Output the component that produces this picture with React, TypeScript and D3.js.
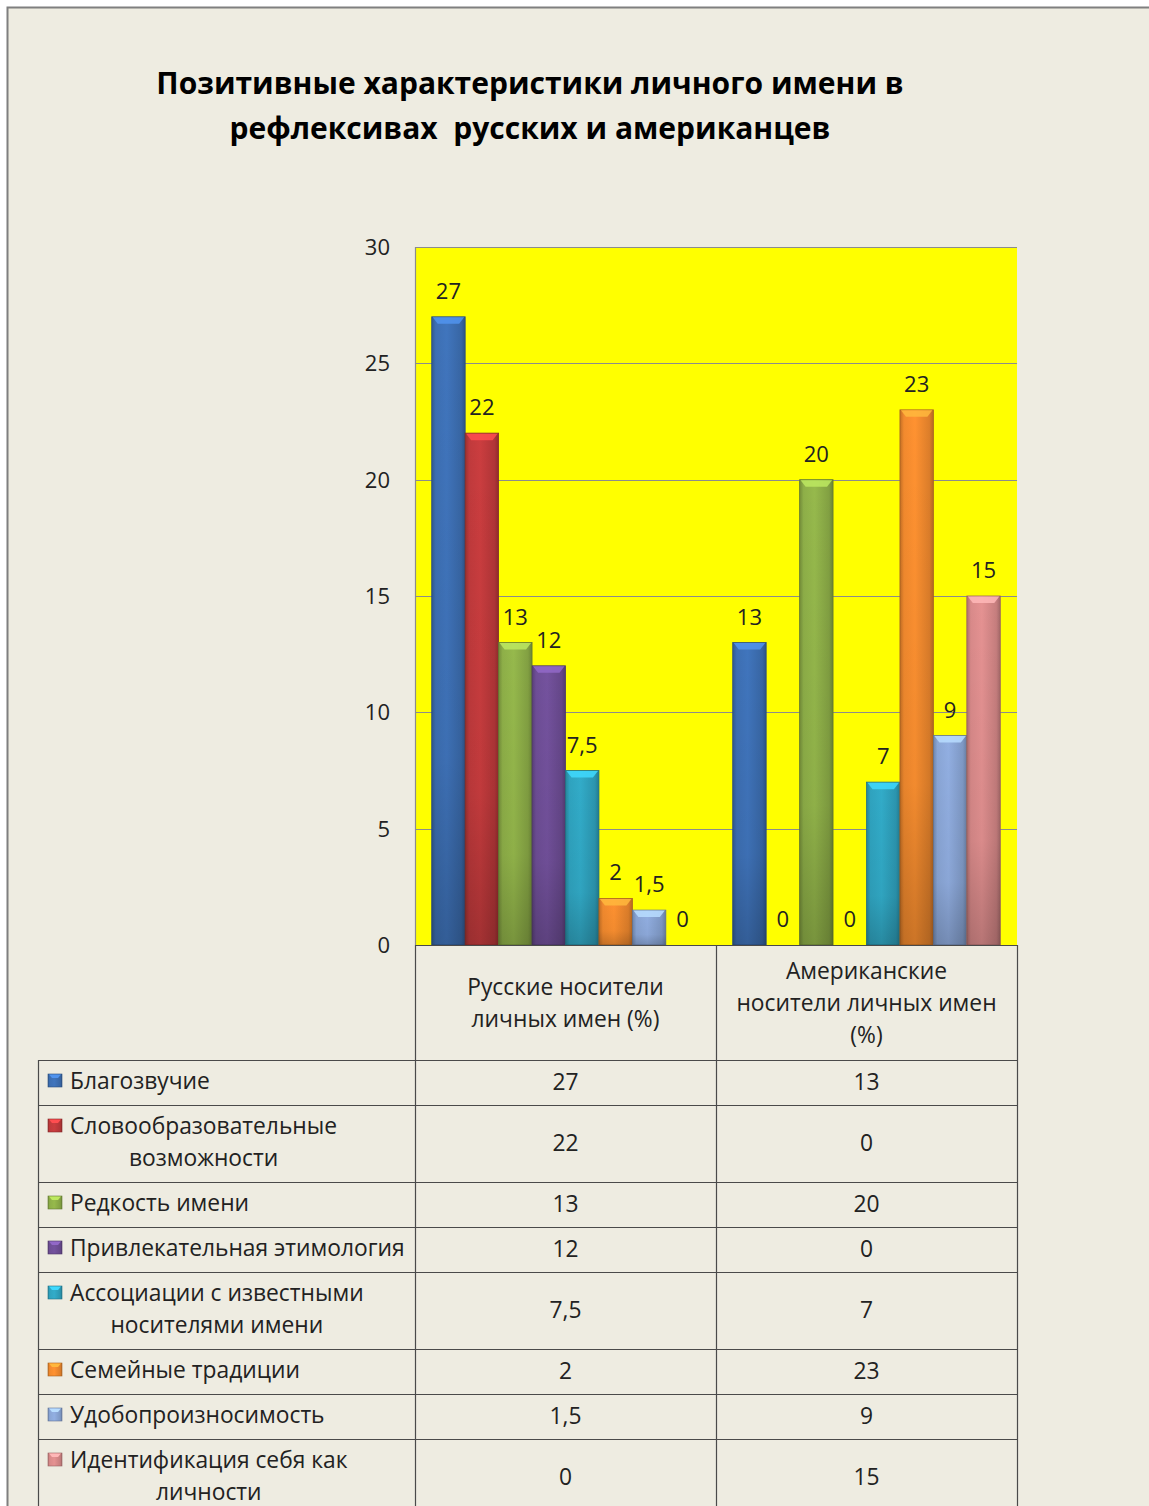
import React, { useEffect, useRef } from "react";
import * as d3 from "d3";

const titleLines = ["Позитивные характеристики личного имени в", "рефлексивах  русских и американцев"];
const categories = ["ru", "us"];
const categoryLabels = [
  ["Русские носители", "личных имен (%)"],
  ["Американские", "носители личных имен", "(%)"],
];
const seriesNames = [
  ["Благозвучие"],
  ["Словообразовательные", "возможности"],
  ["Редкость имени"],
  ["Привлекательная этимология"],
  ["Ассоциации с известными", "носителями имени"],
  ["Семейные традиции"],
  ["Удобопроизносимость"],
  ["Идентификация себя как", "личности"],
];
const russianValues = [27, 22, 13, 12, 7.5, 2, 1.5, 0];
const americanValues = [13, 0, 20, 0, 7, 23, 9, 15];
const seriesColors = ["#3D6FB3", "#C03A3C", "#8EAF48", "#6E4E96", "#2FA3BF", "#F28A2E", "#8AA6D6", "#D98A8A"];
const yTicks = [0, 5, 10, 15, 20, 25, 30];

const fmt = (v: number) => String(v).replace(".", ",");
const FONT = "'Open Sans', 'Noto Sans', sans-serif";

export default function App() {
  const ref = useRef<SVGSVGElement>(null);
  useEffect(() => {
    const svg = d3.select(ref.current);
    svg.selectAll("*").remove();

    const W = 1149, H = 1506;
    const plot = { left: 415, right: 1017, top: 247, bottom: 945 };
    const tableLeft = 38;
    const TS = 22.8;

    const defs = svg.append("defs");
    seriesColors.forEach((c, i) => {
      const g = defs.append("linearGradient").attr("id", `g${i}`).attr("x1", 0).attr("x2", 1).attr("y1", 0).attr("y2", 0);
      const base = d3.color(c)!;
      g.append("stop").attr("offset", 0).attr("stop-color", base.darker(0.6).formatHex());
      g.append("stop").attr("offset", 0.12).attr("stop-color", base.formatHex());
      g.append("stop").attr("offset", 0.45).attr("stop-color", base.brighter(0.15).formatHex());
      g.append("stop").attr("offset", 0.88).attr("stop-color", base.darker(0.25).formatHex());
      g.append("stop").attr("offset", 1).attr("stop-color", base.darker(0.8).formatHex());
      const gv = defs.append("linearGradient").attr("id", `v${i}`).attr("x1", 0).attr("x2", 0).attr("y1", 0).attr("y2", 1);
      gv.append("stop").attr("offset", 0).attr("stop-color", "#000").attr("stop-opacity", 0);
      gv.append("stop").attr("offset", 0.7).attr("stop-color", "#000").attr("stop-opacity", 0.05);
      gv.append("stop").attr("offset", 1).attr("stop-color", "#000").attr("stop-opacity", 0.2);
    });

    svg.append("rect").attr("x", 0).attr("y", 0).attr("width", W).attr("height", H).attr("fill", "#ffffff");
    svg.append("rect").attr("x", 7.5).attr("y", 7.5).attr("width", W + 20).attr("height", H + 20)
      .attr("fill", "#EEECE1").attr("stroke", "#7F7F7F").attr("stroke-width", 2);

    svg.append("g").selectAll("text").data(titleLines).join("text")
      .attr("x", 530).attr("y", (_d, i) => 94 + i * 45)
      .attr("text-anchor", "middle").attr("font-family", FONT).attr("font-weight", "bold")
      .attr("font-size", 30).attr("fill", "#000").style("white-space", "pre").text((d) => d);

    const y = d3.scaleLinear().domain([0, 30]).range([plot.bottom, plot.top]);
    const x0 = d3.scaleBand<string>().domain(categories).range([plot.left, plot.right]);
    const x1 = d3.scaleBand<number>().domain(d3.range(seriesNames.length)).range([0, x0.bandwidth()]).paddingInner(0).paddingOuter(0.5);

    svg.append("rect").attr("x", plot.left).attr("y", plot.top).attr("width", plot.right - plot.left)
      .attr("height", plot.bottom - plot.top).attr("fill", "#FFFF00");

    svg.append("g").selectAll("line").data(yTicks.filter((t) => t > 0)).join("line")
      .attr("x1", plot.left).attr("x2", plot.right)
      .attr("y1", (d) => Math.round(y(d)) + 0.5).attr("y2", (d) => Math.round(y(d)) + 0.5)
      .attr("stroke", "#8C8C8C").attr("stroke-width", 1.2);
    svg.append("line").attr("x1", plot.left + 0.5).attr("x2", plot.left + 0.5).attr("y1", plot.top).attr("y2", plot.bottom)
      .attr("stroke", "#8C8C8C").attr("stroke-width", 1.2);

    svg.append("g").selectAll("text").data(yTicks).join("text")
      .attr("x", 390).attr("y", (d) => y(d) + 8).attr("text-anchor", "end")
      .attr("font-family", FONT).attr("font-size", 22).attr("fill", "#222").text((d) => String(d));

    const groups = [russianValues, americanValues];
    groups.forEach((vals, gi) => {
      const g = svg.append("g").attr("transform", `translate(${x0(categories[gi])},0)`);
      const data = vals.map((v, i) => ({ v, i }));
      const bars = g.selectAll("g.bar").data(data.filter((d) => d.v > 0)).join("g");
      bars.append("rect")
        .attr("x", (d) => x1(d.i)!).attr("y", (d) => y(d.v)).attr("width", x1.bandwidth())
        .attr("height", (d) => y(0) - y(d.v)).attr("fill", (d) => `url(#g${d.i})`)
        .attr("stroke", (d) => d3.color(seriesColors[d.i])!.darker(1).formatHex()).attr("stroke-width", 0.8);
      bars.append("rect")
        .attr("x", (d) => x1(d.i)!).attr("y", (d) => y(d.v)).attr("width", x1.bandwidth())
        .attr("height", (d) => y(0) - y(d.v)).attr("fill", (d) => `url(#v${d.i})`);
      bars.append("path")
        .attr("d", (d) => {
          const xl = x1(d.i)!, xr = xl + x1.bandwidth(), yt = y(d.v);
          const b = Math.min(7, (y(0) - y(d.v)) / 2);
          return `M${xl + 1},${yt + 0.5}L${xr - 1},${yt + 0.5}L${xr - 6},${yt + b}L${xl + 6},${yt + b}Z`;
        })
        .attr("fill", (d) => d3.color(seriesColors[d.i])!.brighter(0.8).formatHex()).attr("opacity", 0.85);
      g.selectAll("text").data(data).join("text")
        .attr("x", (d) => x1(d.i)! + x1.bandwidth() / 2).attr("y", (d) => y(d.v) - 18)
        .attr("text-anchor", "middle").attr("font-family", FONT).attr("font-size", 22).attr("fill", "#222")
        .text((d) => fmt(d.v));
    });

    const lineH = 32;
    const headerTop = plot.bottom, headerBottom = 1060;
    const rowHeights = seriesNames.map((n) => 45 + (n.length - 1) * lineH);
    const rowTops: number[] = [];
    let acc = headerBottom;
    rowHeights.forEach((h) => { rowTops.push(acc); acc += h; });
    const tableBottom = acc;
    const lineColor = "#4A4A4A";
    const tg = svg.append("g");
    categories.forEach((c, ci) => {
      const cx = x0(c)! + x0.bandwidth() / 2;
      const lines = categoryLabels[ci];
      const cy = (headerTop + headerBottom) / 2 + 1;
      tg.append("g").selectAll("text").data(lines).join("text")
        .attr("x", cx).attr("y", (_d, i) => cy + (i - (lines.length - 1) / 2) * lineH + 7)
        .attr("text-anchor", "middle").attr("font-family", FONT).attr("font-size", TS).attr("fill", "#222").text((d) => d);
    });
    seriesNames.forEach((lines, ri) => {
      const top = rowTops[ri], h = rowHeights[ri];
      const cy = top + h / 2;
      const firstY = cy - (lines.length - 1) * lineH / 2 - 1.5;
      const keyX = 48;
      const textX = 70;
      tg.append("rect").attr("x", keyX).attr("y", firstY - 7).attr("width", 14).attr("height", 13)
        .attr("fill", `url(#g${ri})`).attr("stroke", d3.color(seriesColors[ri])!.darker(1).formatHex()).attr("stroke-width", 0.6);
      tg.append("path")
        .attr("d", `M${keyX + 1},${firstY - 6.5}L${keyX + 13},${firstY - 6.5}L${keyX + 10},${firstY - 3}L${keyX + 4},${firstY - 3}Z`)
        .attr("fill", d3.color(seriesColors[ri])!.brighter(0.8).formatHex());
      const first = tg.append("text").attr("x", textX).attr("y", firstY + 8)
        .attr("font-family", FONT).attr("font-size", TS).attr("fill", "#222").text(lines[0]);
      const w = (first.node() as SVGTextElement).getComputedTextLength();
      for (let li = 1; li < lines.length; li++) {
        tg.append("text").attr("x", textX + w / 2).attr("y", firstY + li * lineH + 8).attr("text-anchor", "middle")
          .attr("font-family", FONT).attr("font-size", TS).attr("fill", "#222").text(lines[li]);
      }
      groups.forEach((vals, gi) => {
        tg.append("text").attr("x", x0(categories[gi])! + x0.bandwidth() / 2).attr("y", cy + 7)
          .attr("text-anchor", "middle").attr("font-family", FONT).attr("font-size", TS).attr("fill", "#222")
          .text(fmt(vals[ri]));
      });
    });
    const hLines = [headerBottom, ...rowTops.slice(1), tableBottom];
    tg.append("g").selectAll("line").data(hLines).join("line")
      .attr("x1", tableLeft).attr("x2", plot.right).attr("y1", (d) => d + 0.5).attr("y2", (d) => d + 0.5)
      .attr("stroke", lineColor).attr("stroke-width", 1.2);
    tg.append("line").attr("x1", plot.left).attr("x2", plot.right).attr("y1", plot.bottom + 0.5).attr("y2", plot.bottom + 0.5)
      .attr("stroke", lineColor).attr("stroke-width", 1.2);
    const vLines = [
      { x: tableLeft, y1: headerBottom },
      { x: plot.left, y1: headerTop },
      { x: x0(categories[1])!, y1: headerTop },
      { x: plot.right, y1: headerTop },
    ];
    tg.append("g").selectAll("line").data(vLines).join("line")
      .attr("x1", (d) => d.x + 0.5).attr("x2", (d) => d.x + 0.5).attr("y1", (d) => d.y1).attr("y2", tableBottom)
      .attr("stroke", lineColor).attr("stroke-width", 1.2);
  }, []);

  return (
    <svg ref={ref} width={1149} height={1506}
      style={{ position: "absolute", left: 0, top: 0, display: "block" }} />
  );
}
